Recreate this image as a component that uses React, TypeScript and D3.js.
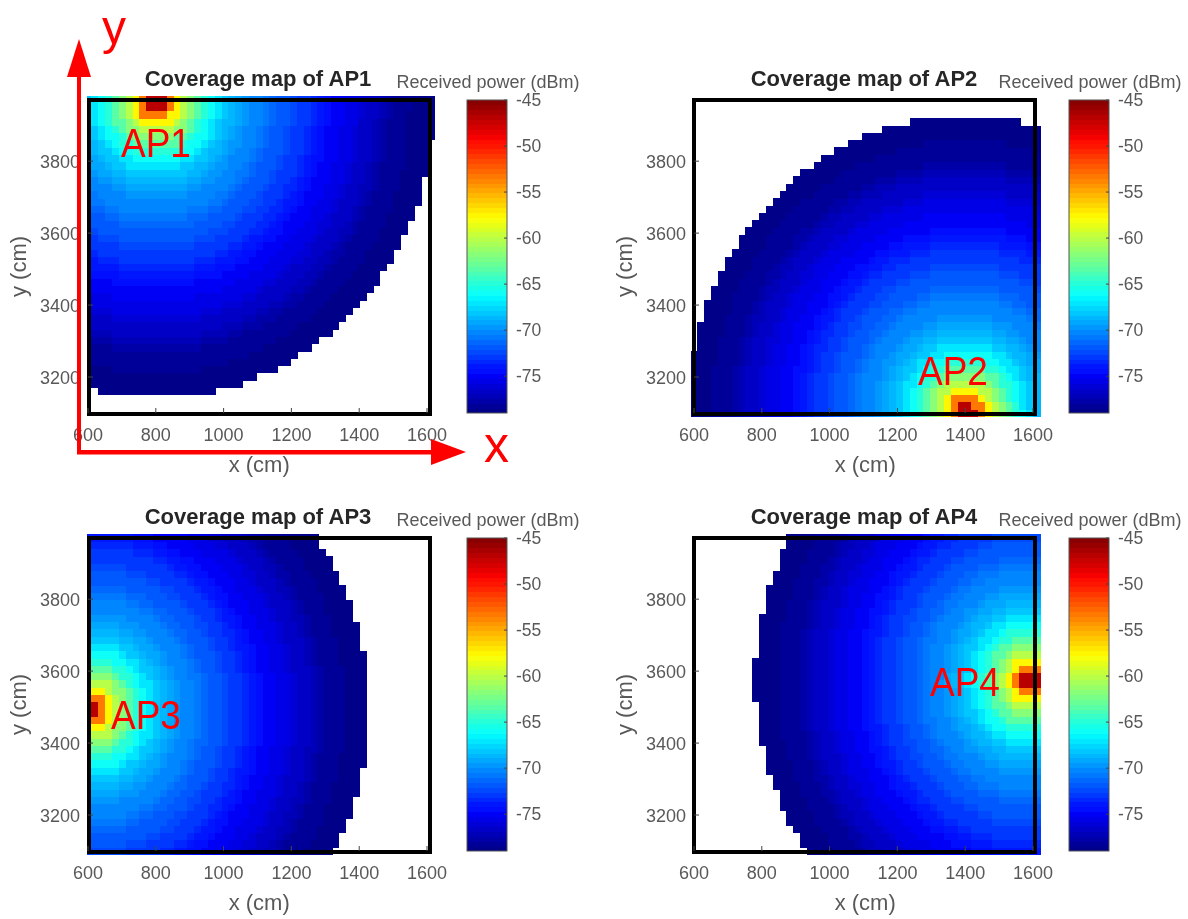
import { range, scaleLinear, rgb } from "d3";

const W = 1188;
const H = 919;

const apNames = ["AP1", "AP2", "AP3", "AP4"];
const apX = [800, 1400, 606, 1597]; // cm
const apY = [3960, 3108, 3495, 3575]; // cm

// The maps are nearly perfect rings round each AP, so the colours were read off the picture
// once per 20 cm of distance instead of cell by cell. Index = distance / 20.
const ringPower = [
  -45, -47, -53, -57.5, -60, -62, -63.5, -65, -66, -67, -68,
  -68.7, -69.2, -69.7, -70.1, -70.4, -70.8, -71.2, -71.6, -72, -72.3,
  -72.7, -73.1, -73.6, -74, -74.5, -74.8, -75.1, -75.4, -75.7, -76,
  -76.4, -76.8, -77.2, -77.7, -78, -78.2, -78.4, -78.5, -78.7, -78.9, -79,
];
const coverageLimit = 817; // cm, nothing drawn past this

const xTicks = [600, 800, 1000, 1200, 1400, 1600];
const yTicks = [3200, 3400, 3600, 3800];
const powerTicks = [-45, -50, -55, -60, -65, -70, -75];
const powerMin = -79;
const powerMax = -45;

const jetStops = ["#000080", "#0000ff", "#00ffff", "#ffff00", "#ff0000", "#800000"];
const jetAt = [0, 1 / 8, 3 / 8, 5 / 8, 7 / 8, 1];

const xCells = range(51).map((i) => 600 + i * 20.2);
const yCells = range(44).map((j) => 3100 + j * 20.23);

// plot boxes, one per AP
const LEFT = [88, 694];
const TOP = [100, 538];
const PLOT_W = 342.4;
const PLOT_H = 313;
const CB_LEFT = [467, 1069];
const CB_W = 40;

const FONT = "'Liberation Sans', Arial, sans-serif";
const GREY = "#595959";

const jetT = scaleLinear<string>().domain(jetAt).range(jetStops);
// MATLAB's jet has 64 flat levels
const jet = (v: number) => {
  const t = (v - powerMin) / (powerMax - powerMin);
  const lvl = Math.min(63, Math.max(0, Math.floor(t * 64)));
  return rgb(jetT((lvl + 0.5) / 64)).formatHex();
};

function Panel({ index }: { index: number }) {
  const col = index % 2;
  const row = index < 2 ? 0 : 1;
  const left = LEFT[col];
  const top = TOP[row];
  const bottom = top + PLOT_H;
  const x = scaleLinear().domain([600, 1610]).range([left, left + PLOT_W]);
  const y = scaleLinear().domain([3100, 3970]).range([bottom, top]);
  const c = scaleLinear().domain([powerMin, powerMax]).range([bottom, top]);
  const cw = x(620.2) - x(600);
  const ch = y(3100) - y(3120.23);
  const cbX = CB_LEFT[col];
  const midX = x(1105);
  const midY = (top + bottom) / 2;
  // the left column's plots show no spill past the frame's left side
  const minCellX = col === 0 ? left - 1 : left - 4;

  const cells: { cx: number; cy: number; v: number }[] = [];
  for (const cx of xCells) {
    for (const cy of yCells) {
      const d = Math.hypot(cx - apX[index], cy - apY[index]);
      if (d > coverageLimit) continue;
      cells.push({ cx, cy, v: ringPower[Math.min(ringPower.length - 1, Math.round(d / 20))] });
    }
  }

  return (
    <g fontFamily={FONT}>
      <g shapeRendering="crispEdges">
        {cells.map((d) => {
          const x0 = Math.max(minCellX, x(d.cx) - cw / 2);
          return (
            <rect
              key={`${d.cx}-${d.cy}`}
              x={x0}
              y={y(d.cy) - ch / 2}
              width={x(d.cx) + cw / 2 + 1.4 - x0}
              height={ch + 0.4}
              fill={jet(d.v)}
            />
          );
        })}
      </g>
      <rect x={left + 1 - col} y={top} width={341} height={PLOT_H + 1} fill="none" stroke="#000" strokeWidth={4} />

      {xTicks.map((t) => (
        <g key={t}>
          <line x1={x(t)} x2={x(t)} y1={bottom - 5} y2={bottom} stroke="#444" />
          <text x={x(t)} y={bottom + 28} textAnchor="middle" fontSize={18} fill={GREY}>
            {t}
          </text>
        </g>
      ))}
      {yTicks.map((t) => (
        <g key={t}>
          <line x1={left} x2={left + 5} y1={y(t)} y2={y(t)} stroke="#444" />
          <text x={left - 8} y={y(t)} dy="0.36em" textAnchor="end" fontSize={18} fill={GREY}>
            {t}
          </text>
        </g>
      ))}
      <text x={midX} y={bottom + 59} textAnchor="middle" fontSize={22} fill={GREY}>
        x (cm)
      </text>
      <text
        transform={`translate(${left - 62},${midY + 10}) rotate(-90)`}
        textAnchor="middle"
        fontSize={22}
        fill={GREY}
      >
        y (cm)
      </text>
      <text x={left + 170} y={top - 14} textAnchor="middle" fontSize={22} fontWeight="bold" fill="#262626">
        Coverage map of {apNames[index]}
      </text>

      <g shapeRendering="crispEdges">
        {range(64).map((i) => {
          const lo = powerMin + (i * (powerMax - powerMin)) / 64;
          const hi = powerMin + ((i + 1) * (powerMax - powerMin)) / 64;
          return <rect key={i} x={cbX} y={c(hi)} width={CB_W} height={c(lo) - c(hi) + 0.4} fill={jet(lo + 0.01)} />;
        })}
      </g>
      <rect x={cbX} y={top} width={CB_W} height={PLOT_H} fill="none" stroke="#555" strokeWidth={1} />
      {powerTicks.map((t) => (
        <g key={t}>
          <line x1={cbX + CB_W - 3} x2={cbX + CB_W} y1={c(t)} y2={c(t)} stroke="#444" />
          <text x={cbX + CB_W + 9} y={c(t)} dy="0.36em" fontSize={17.5} fill={GREY}>
            {t}
          </text>
        </g>
      ))}
      <text x={cbX + 21} y={top - 12} textAnchor="middle" fontSize={18} fill={GREY}>
        Received power (dBm)
      </text>
    </g>
  );
}

// red notes the author laid over the figure
const apLabelLeft = [121, 918, 111, 930];
const apLabelBase = [157, 385, 729, 696];

export default function App() {
  return (
    <svg width={W} height={H} viewBox={`0 0 ${W} ${H}`} style={{ position: "absolute", left: 0, top: 0, background: "#fff" }}>
      <defs>
        {/* the source is a soft, rescaled bitmap */}
        <filter id="soft" filterUnits="userSpaceOnUse" x={0} y={0} width={W} height={H}>
          <feGaussianBlur stdDeviation={0.45} />
        </filter>
      </defs>
      <g filter="url(#soft)">
        {apNames.map((name, i) => (
          <Panel key={name} index={i} />
        ))}
        <g fill="#ff0000" fontFamily={FONT}>
          {apNames.map((name, i) => (
            <text
              key={name}
              transform={`translate(${apLabelLeft[i]},${apLabelBase[i]}) scale(1,1.1)`}
              fontSize={37}
            >
              {name}
            </text>
          ))}
          <rect x={77} y={72} width={4} height={382} />
          <rect x={77} y={450} width={356} height={4.5} />
          <polygon points="79,39 67,77 91,77" />
          <polygon points="466,452 431,439 431,465" />
          <text x={102} y={44} fontSize={48}>
            y
          </text>
          <text x={484} y={462} fontSize={50}>
            x
          </text>
        </g>
      </g>
    </svg>
  );
}
